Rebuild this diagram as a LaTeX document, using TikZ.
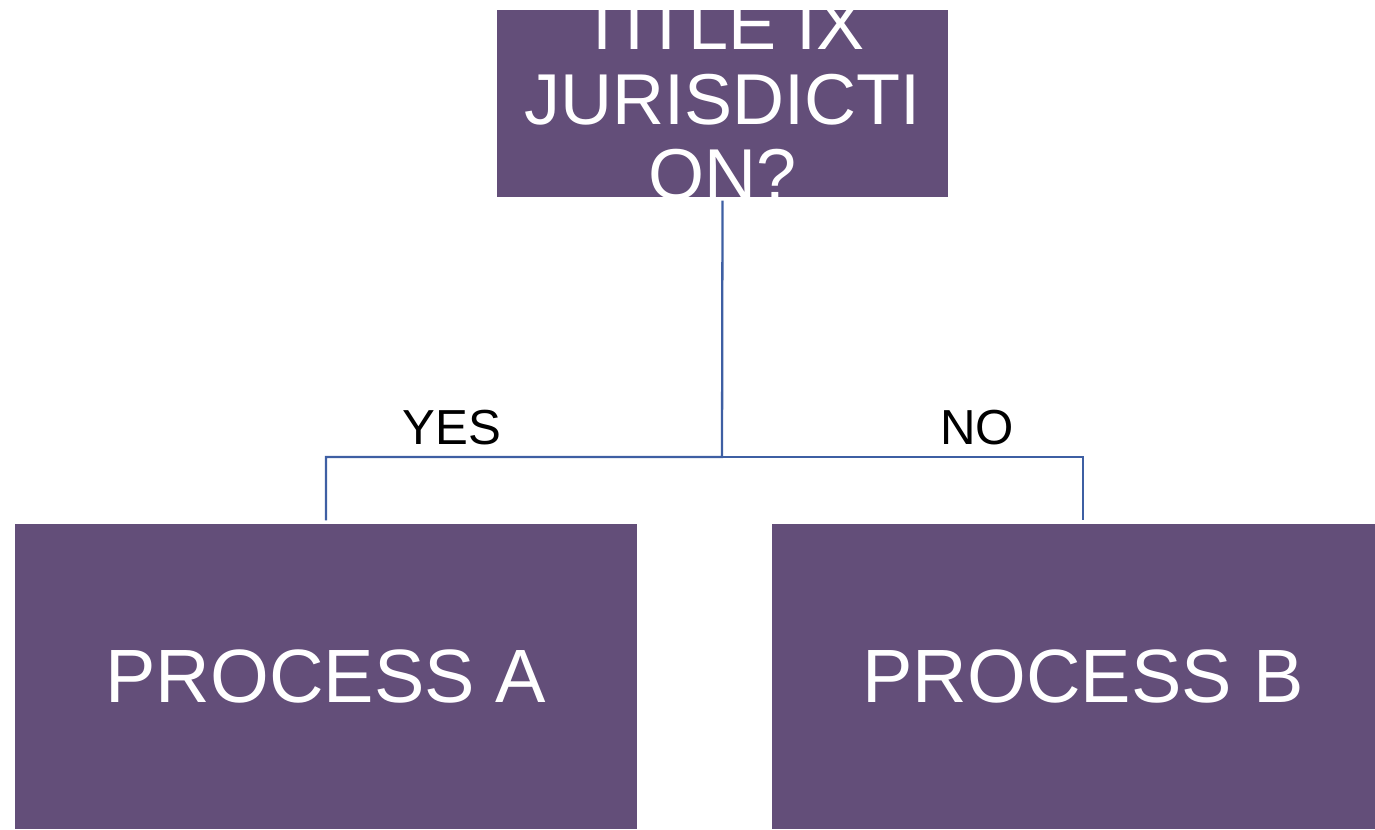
\documentclass[tikz,border=0pt]{standalone}
\usepackage{fontspec}
\setmainfont{Liberation Sans}
\usepackage{xcolor}
\usepackage{tikz}
\usetikzlibrary{positioning, calc}

\definecolor{boxpurple}{HTML}{634E79}
\definecolor{linkblue}{HTML}{3E5FA3}

\begin{document}
\begin{tikzpicture}[
    box/.style={rectangle, fill=boxpurple, inner sep=0pt},
    boxtext/.style={text=white, align=center, inner sep=0pt},
    link/.style={draw=linkblue, line width=0.65pt, shorten <=0.03cm, shorten >=0.03cm}
]

% Page frame
\clip (0,0) rectangle (13.75,8.29);

% Decision box
\node[box, minimum width=4.51cm, minimum height=1.87cm] (title) at (7.225,7.255) {};
\begin{scope}
    \clip (title.south west) rectangle (title.north east);
    \node[boxtext, font=\fontsize{20.5}{21.3}\selectfont] (titletxt) at (7.225,7.29)
        {TITLE IX\\JURISDICTI\\ON?};
\end{scope}

% Outcome boxes
\node[box, minimum width=6.22cm, minimum height=3.05cm] (procA) at (3.26,1.525) {};
\node[box, minimum width=6.22cm, minimum height=3.05cm] (procB) at (10.83,1.525) {};
\node[boxtext, font=\fontsize{21.5}{24}\selectfont] (procAtxt) at (3.26,1.53) {PROCESS A};
\node[boxtext, font=\fontsize{21.5}{24}\selectfont] (procBtxt) at (10.83,1.53) {PROCESS B};

% Connectors
\coordinate (split) at (7.22,3.72);
\draw[link] (title.south) -- (split) -| (procA.north);
\draw[link, shorten <=0pt] (split) -| (procB.north);

% Branch labels
\node[font=\fontsize{14}{16}\selectfont] (yes) at (4.52,4.01) {YES};
\node[font=\fontsize{14}{16}\selectfont] (no) at (9.77,4.01) {NO};

\end{tikzpicture}
\end{document}
